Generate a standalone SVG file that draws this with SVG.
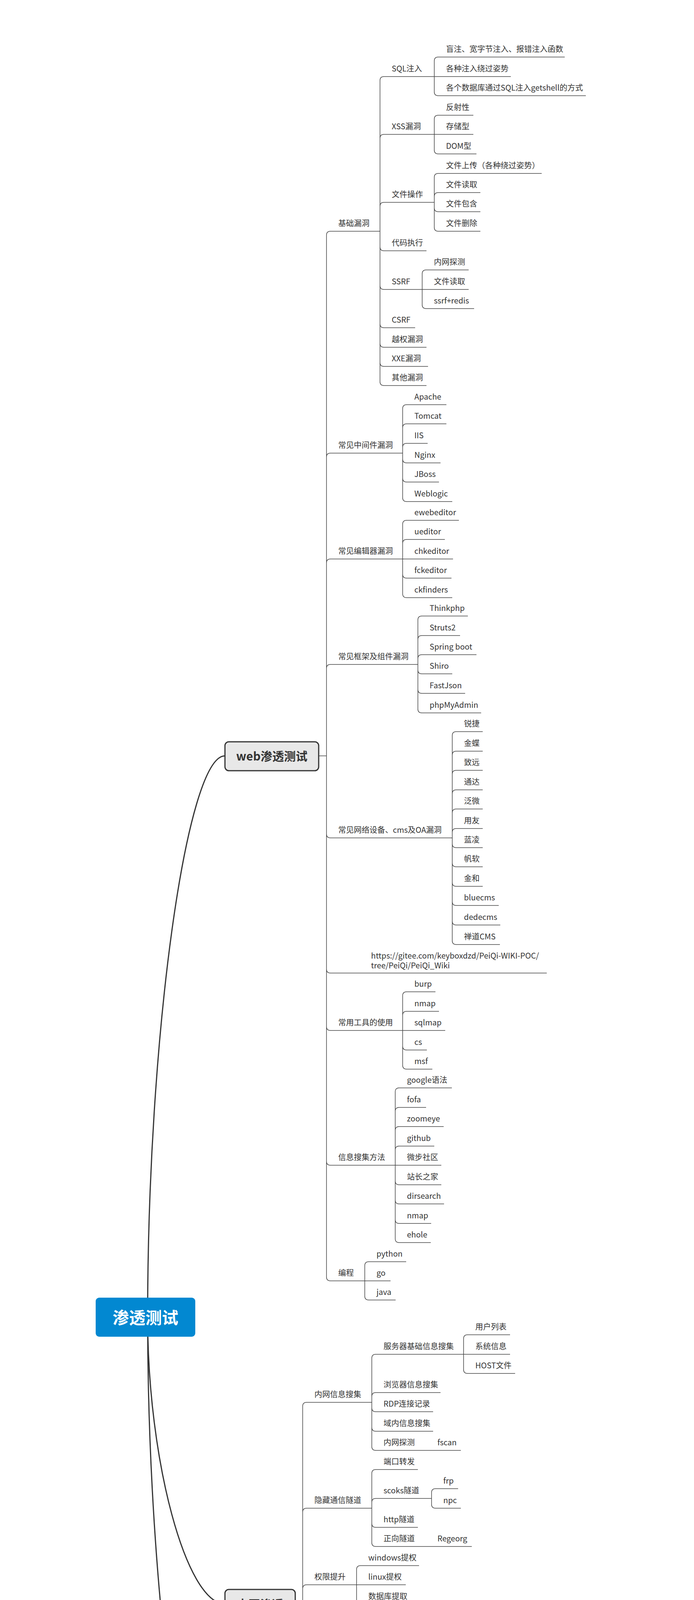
<svg xmlns="http://www.w3.org/2000/svg" width="1777" height="5404" viewBox="0 0 1777 5404">
<style>
.t{font-family:"Noto Sans CJK SC","Noto Sans",sans-serif;font-size:20px;fill:#333}
.u,.c{fill:none;stroke:#444;stroke-width:1.5}
.m{fill:none;stroke:#333;stroke-width:3}
.box{fill:#e8e8e8;stroke:#333;stroke-width:3}
.bt{font-family:"Noto Sans CJK SC","Noto Sans",sans-serif;font-size:30px;font-weight:bold;fill:#333;text-anchor:middle}
.rt{font-family:"Noto Sans CJK SC","Noto Sans",sans-serif;font-size:42px;font-weight:bold;fill:#fff;text-anchor:middle}
</style>
<rect width="1777" height="5404" fill="#fff"/>
<g id="connectors">
<path class="m" d="M378 3372C378 2653.5 477 1935 576 1935"/>
<path class="m" d="M378 3372C378 3739 477 4106 576 4106"/>
<path class="m" d="M378 3372C378 4090.5 477 4809 576 4809"/>
<path class="c" d="M816 1935H836M756 4106H775M756 4809H775"/>
<path class="c" d="M836 1935V602Q836 592 846 592M836 1935V1170Q836 1160 846 1160M836 1935V1441Q836 1431 846 1431M836 1935V1711Q836 1701 846 1701M836 1935V2135Q836 2145 846 2145M836 1935V2481Q836 2491 846 2491M836 1935V2628Q836 2638 846 2638M836 1935V2973Q836 2983 846 2983M836 1935V3269Q836 3279 846 3279"/>
<path class="c" d="M973 592V206Q973 196 983 196M973 592V354Q973 344 983 344M973 592V528Q973 518 983 518M973 592V632Q973 642 983 642M973 592V731Q973 741 983 741M973 592V829Q973 839 983 839M973 592V879Q973 889 983 889M973 592V928Q973 938 983 938M973 592V977Q973 987 983 987"/>
<path class="c" d="M1112 196V156Q1112 146 1122 146M1112 196V235Q1112 245 1122 245M1112 344V305Q1112 295 1122 295M1112 344V384Q1112 394 1122 394M1112 518V454Q1112 444 1122 444M1112 518V503Q1112 493 1122 493M1112 518V532Q1112 542 1122 542M1112 518V582Q1112 592 1122 592M1081 741V701Q1081 691 1091 691M1081 741V780Q1081 790 1091 790"/>
<path class="c" d="M1031 1160V1046Q1031 1036 1041 1036M1031 1160V1095Q1031 1085 1041 1085M1031 1160V1145Q1031 1135 1041 1135M1031 1160V1175Q1031 1185 1041 1185M1031 1160V1224Q1031 1234 1041 1234M1031 1160V1274Q1031 1284 1041 1284"/>
<path class="c" d="M1031 1431V1342Q1031 1332 1041 1332M1031 1431V1391Q1031 1381 1041 1381M1031 1431V1470Q1031 1480 1041 1480M1031 1431V1520Q1031 1530 1041 1530"/>
<path class="c" d="M1070 1701V1587Q1070 1577 1080 1577M1070 1701V1637Q1070 1627 1080 1627M1070 1701V1686Q1070 1676 1080 1676M1070 1701V1715Q1070 1725 1080 1725M1070 1701V1765Q1070 1775 1080 1775M1070 1701V1815Q1070 1825 1080 1825"/>
<path class="c" d="M1158 2145V1883Q1158 1873 1168 1873M1158 2145V1933Q1158 1923 1168 1923M1158 2145V1982Q1158 1972 1168 1972M1158 2145V2032Q1158 2022 1168 2022M1158 2145V2081Q1158 2071 1168 2071M1158 2145V2131Q1158 2121 1168 2121M1158 2145V2160Q1158 2170 1168 2170M1158 2145V2209Q1158 2219 1168 2219M1158 2145V2259Q1158 2269 1168 2269M1158 2145V2308Q1158 2318 1168 2318M1158 2145V2358Q1158 2368 1168 2368M1158 2145V2408Q1158 2418 1168 2418"/>
<path class="c" d="M1031 2638V2549Q1031 2539 1041 2539M1031 2638V2599Q1031 2589 1041 2589M1031 2638V2678Q1031 2688 1041 2688M1031 2638V2727Q1031 2737 1041 2737"/>
<path class="c" d="M1012 2983V2795Q1012 2785 1022 2785M1012 2983V2845Q1012 2835 1022 2835M1012 2983V2894Q1012 2884 1022 2884M1012 2983V2944Q1012 2934 1022 2934M1012 2983V3023Q1012 3033 1022 3033M1012 2983V3072Q1012 3082 1022 3082M1012 2983V3122Q1012 3132 1022 3132M1012 2983V3171Q1012 3181 1022 3181"/>
<path class="c" d="M934 3279V3240Q934 3230 944 3230M934 3279V3318Q934 3328 944 3328"/>
<path class="c" d="M775 4106V3600Q775 3590 785 3590M775 4106V3871Q775 3861 785 3861M775 4106V4067Q775 4057 785 4057M775 4106V4269Q775 4279 785 4279M775 4106V4465Q775 4475 785 4475M775 4106V4612Q775 4622 785 4622"/>
<path class="c" d="M952 3590V3477Q952 3467 962 3467M952 3590V3575Q952 3565 962 3565M952 3590V3604Q952 3614 962 3614M952 3590V3654Q952 3664 962 3664M952 3590V3703Q952 3713 962 3713"/>
<path class="c" d="M1187 3467V3427Q1187 3417 1197 3417M1187 3467V3506Q1187 3516 1197 3516"/>
<path class="c" d="M952 3861V3772Q952 3762 962 3762M952 3861V3846Q952 3836 962 3836M952 3861V3900Q952 3910 962 3910M952 3861V3949Q952 3959 962 3959M1105 3836V3821Q1105 3811 1115 3811M1105 3836V3851Q1105 3861 1115 3861"/>
<path class="c" d="M913 4057V4018Q913 4008 923 4008M913 4057V4097Q913 4107 923 4107"/>
<path class="c" d="M913 4279V4165Q913 4155 923 4155M913 4279V4215Q913 4205 923 4205M913 4279V4264Q913 4254 923 4254M913 4279V4293Q913 4303 923 4303M913 4279V4343Q913 4353 923 4353M913 4279V4392Q913 4402 923 4402"/>
<path class="c" d="M913 4475V4460Q913 4450 923 4450M913 4475V4490Q913 4500 923 4500"/>
<path class="c" d="M894 4622V4558Q894 4548 904 4548M894 4622V4607Q894 4597 904 4597M894 4622V4636Q894 4646 904 4646M894 4622V4686Q894 4696 904 4696"/>
<path class="c" d="M775 4809V4794Q775 4784 785 4784M775 4809V4823Q775 4833 785 4833"/>
</g>

<g id="root"><rect x="245" y="3322" width="255" height="100" rx="9" fill="#0288d1"/><text class="rt" x="372.5" y="3389">渗透测试</text></g>
<g id="web"><rect class="box" x="576" y="1899" width="240" height="74" rx="10"/><text class="bt" x="696" y="1947">web渗透测试</text></g>
<g id="neiwang"><rect class="box" x="576" y="4069" width="180" height="75" rx="10"/><text class="bt" x="666" y="4118">内网渗透</text></g>
<g id="daima"><rect class="box" x="576" y="4772" width="180" height="74" rx="10"/><text class="bt" x="666" y="4820">代码审计</text></g>

<g id="jichu"><text class="t" x="866" y="579">基础漏洞</text><path class="u" d="M846 592H973"/></g>
<g id="zhongjian"><text class="t" x="866" y="1147">常见中间件漏洞</text><path class="u" d="M846 1160H1031"/></g>
<g id="bianji"><text class="t" x="866" y="1418">常见编辑器漏洞</text><path class="u" d="M846 1431H1031"/></g>
<g id="kuangjia"><text class="t" x="866" y="1688">常见框架及组件漏洞</text><path class="u" d="M846 1701H1070"/></g>
<g id="wangluo"><text class="t" x="866" y="2132">常见网络设备、cms及OA漏洞</text><path class="u" d="M846 2145H1158"/></g>
<g id="url"><text class="t" x="950" y="2454">https://gitee.com/keyboxdzd/PeiQi-WIKI-POC/</text><text class="t" x="950" y="2479">tree/PeiQi/PeiQi_Wiki</text><path class="u" d="M846 2491H1400"/></g>
<g id="gongju"><text class="t" x="866" y="2625">常用工具的使用</text><path class="u" d="M846 2638H1031"/></g>
<g id="xinxi"><text class="t" x="866" y="2970">信息搜集方法</text><path class="u" d="M846 2983H1012"/></g>
<g id="biancheng"><text class="t" x="866" y="3266">编程</text><path class="u" d="M846 3279H934"/></g>

<g id="sql"><text class="t" x="1003" y="183">SQL注入</text><path class="u" d="M983 196H1112"/></g>
<g id="xss"><text class="t" x="1003" y="331">XSS漏洞</text><path class="u" d="M983 344H1112"/></g>
<g id="wenjian"><text class="t" x="1003" y="505">文件操作</text><path class="u" d="M983 518H1112"/></g>
<g id="daimazx"><text class="t" x="1003" y="629">代码执行</text><path class="u" d="M983 642H1092"/></g>
<g id="ssrf"><text class="t" x="1003" y="728">SSRF</text><path class="u" d="M983 741H1081"/></g>
<g id="csrf"><text class="t" x="1003" y="826">CSRF</text><path class="u" d="M983 839H1063"/></g>
<g id="yuequan"><text class="t" x="1003" y="876">越权漏洞</text><path class="u" d="M983 889H1092"/></g>
<g id="xxe"><text class="t" x="1003" y="925">XXE漏洞</text><path class="u" d="M983 938H1096"/></g>
<g id="qita"><text class="t" x="1003" y="974">其他漏洞</text><path class="u" d="M983 987H1092"/></g>

<g id="sql1"><text class="t" x="1142" y="133">盲注、宽字节注入、报错注入函数</text><path class="u" d="M1122 146H1446"/></g>
<g id="sql2"><text class="t" x="1142" y="183">各种注入绕过姿势</text><path class="u" d="M1112 196H1308"/></g>
<g id="sql3"><text class="t" x="1142" y="232">各个数据库通过SQL注入getshell的方式</text><path class="u" d="M1122 245H1500"/></g>
<g id="xss1"><text class="t" x="1142" y="282">反射性</text><path class="u" d="M1122 295H1212"/></g>
<g id="xss2"><text class="t" x="1142" y="331">存储型</text><path class="u" d="M1112 344H1212"/></g>
<g id="xss3"><text class="t" x="1142" y="381">DOM型</text><path class="u" d="M1122 394H1220"/></g>
<g id="wj1"><text class="t" x="1142" y="431">文件上传（各种绕过姿势）</text><path class="u" d="M1122 444H1387"/></g>
<g id="wj2"><text class="t" x="1142" y="480">文件读取</text><path class="u" d="M1122 493H1230"/></g>
<g id="wj3"><text class="t" x="1142" y="529">文件包含</text><path class="u" d="M1122 542H1230"/></g>
<g id="wj4"><text class="t" x="1142" y="579">文件删除</text><path class="u" d="M1122 592H1230"/></g>
<g id="ssrf1"><text class="t" x="1111" y="678">内网探测</text><path class="u" d="M1091 691H1200"/></g>
<g id="ssrf2"><text class="t" x="1111" y="728">文件读取</text><path class="u" d="M1081 741H1200"/></g>
<g id="ssrf3"><text class="t" x="1111" y="777">ssrf+redis</text><path class="u" d="M1091 790H1214"/></g>

<g id="mw1"><text class="t" x="1061" y="1023">Apache</text><path class="u" d="M1041 1036H1143"/></g>
<g id="mw2"><text class="t" x="1061" y="1072">Tomcat</text><path class="u" d="M1041 1085H1143"/></g>
<g id="mw3"><text class="t" x="1061" y="1122">IIS</text><path class="u" d="M1041 1135H1095"/></g>
<g id="mw4"><text class="t" x="1061" y="1172">Nginx</text><path class="u" d="M1041 1185H1128"/></g>
<g id="mw5"><text class="t" x="1061" y="1221">JBoss</text><path class="u" d="M1041 1234H1124"/></g>
<g id="mw6"><text class="t" x="1061" y="1271">Weblogic</text><path class="u" d="M1041 1284H1158"/></g>

<g id="ed1"><text class="t" x="1061" y="1319">ewebeditor</text><path class="u" d="M1041 1332H1175"/></g>
<g id="ed2"><text class="t" x="1061" y="1368">ueditor</text><path class="u" d="M1041 1381H1139"/></g>
<g id="ed3"><text class="t" x="1061" y="1418">chkeditor</text><path class="u" d="M1031 1431H1160"/></g>
<g id="ed4"><text class="t" x="1061" y="1467">fckeditor</text><path class="u" d="M1041 1480H1156"/></g>
<g id="ed5"><text class="t" x="1061" y="1517">ckfinders</text><path class="u" d="M1041 1530H1158"/></g>

<g id="fw1"><text class="t" x="1100" y="1564">Thinkphp</text><path class="u" d="M1080 1577H1198"/></g>
<g id="fw2"><text class="t" x="1100" y="1614">Struts2</text><path class="u" d="M1080 1627H1178"/></g>
<g id="fw3"><text class="t" x="1100" y="1663">Spring boot</text><path class="u" d="M1080 1676H1220"/></g>
<g id="fw4"><text class="t" x="1100" y="1712">Shiro</text><path class="u" d="M1080 1725H1158"/></g>
<g id="fw5"><text class="t" x="1100" y="1762">FastJson</text><path class="u" d="M1080 1775H1191"/></g>
<g id="fw6"><text class="t" x="1100" y="1812">phpMyAdmin</text><path class="u" d="M1080 1825H1232"/></g>

<g id="nw1"><text class="t" x="1188" y="1860">锐捷</text><path class="u" d="M1168 1873H1236"/></g>
<g id="nw2"><text class="t" x="1188" y="1910">金蝶</text><path class="u" d="M1168 1923H1236"/></g>
<g id="nw3"><text class="t" x="1188" y="1959">致远</text><path class="u" d="M1168 1972H1236"/></g>
<g id="nw4"><text class="t" x="1188" y="2009">通达</text><path class="u" d="M1168 2022H1236"/></g>
<g id="nw5"><text class="t" x="1188" y="2058">泛微</text><path class="u" d="M1168 2071H1236"/></g>
<g id="nw6"><text class="t" x="1188" y="2108">用友</text><path class="u" d="M1168 2121H1236"/></g>
<g id="nw7"><text class="t" x="1188" y="2157">蓝凌</text><path class="u" d="M1168 2170H1236"/></g>
<g id="nw8"><text class="t" x="1188" y="2206">帆软</text><path class="u" d="M1168 2219H1236"/></g>
<g id="nw9"><text class="t" x="1188" y="2256">金和</text><path class="u" d="M1168 2269H1236"/></g>
<g id="nw10"><text class="t" x="1188" y="2305">bluecms</text><path class="u" d="M1168 2318H1277"/></g>
<g id="nw11"><text class="t" x="1188" y="2355">dedecms</text><path class="u" d="M1168 2368H1281"/></g>
<g id="nw12"><text class="t" x="1188" y="2405">禅道CMS</text><path class="u" d="M1168 2418H1280"/></g>

<g id="tl1"><text class="t" x="1061" y="2526">burp</text><path class="u" d="M1041 2539H1115"/></g>
<g id="tl2"><text class="t" x="1061" y="2576">nmap</text><path class="u" d="M1041 2589H1124"/></g>
<g id="tl3"><text class="t" x="1061" y="2625">sqlmap</text><path class="u" d="M1031 2638H1140"/></g>
<g id="tl4"><text class="t" x="1061" y="2675">cs</text><path class="u" d="M1041 2688H1093"/></g>
<g id="tl5"><text class="t" x="1061" y="2724">msf</text><path class="u" d="M1041 2737H1107"/></g>

<g id="if1"><text class="t" x="1042" y="2772">google语法</text><path class="u" d="M1022 2785H1157"/></g>
<g id="if2"><text class="t" x="1042" y="2822">fofa</text><path class="u" d="M1022 2835H1091"/></g>
<g id="if3"><text class="t" x="1042" y="2871">zoomeye</text><path class="u" d="M1022 2884H1136"/></g>
<g id="if4"><text class="t" x="1042" y="2921">github</text><path class="u" d="M1022 2934H1112"/></g>
<g id="if5"><text class="t" x="1042" y="2970">微步社区</text><path class="u" d="M1012 2983H1130"/></g>
<g id="if6"><text class="t" x="1042" y="3020">站长之家</text><path class="u" d="M1022 3033H1130"/></g>
<g id="if7"><text class="t" x="1042" y="3069">dirsearch</text><path class="u" d="M1022 3082H1137"/></g>
<g id="if8"><text class="t" x="1042" y="3119">nmap</text><path class="u" d="M1022 3132H1104"/></g>
<g id="if9"><text class="t" x="1042" y="3168">ehole</text><path class="u" d="M1022 3181H1103"/></g>

<g id="bc1"><text class="t" x="964" y="3217">python</text><path class="u" d="M944 3230H1040"/></g>
<g id="bc2"><text class="t" x="964" y="3266">go</text><path class="u" d="M934 3279H1000"/></g>
<g id="bc3"><text class="t" x="964" y="3315">java</text><path class="u" d="M944 3328H1013"/></g>

<g id="nwxx"><text class="t" x="805" y="3577">内网信息搜集</text><path class="u" d="M785 3590H952"/></g>
<g id="ycsd"><text class="t" x="805" y="3848">隐藏通信隧道</text><path class="u" d="M785 3861H952"/></g>
<g id="qxts"><text class="t" x="805" y="4044">权限提升</text><path class="u" d="M785 4057H913"/></g>
<g id="qxwc"><text class="t" x="805" y="4266">权限维持</text><path class="u" d="M785 4279H913"/></g>
<g id="hxyd"><text class="t" x="805" y="4462">横向移动</text><path class="u" d="M785 4475H913"/></g>
<g id="yst"><text class="t" x="805" y="4609">域渗透</text><path class="u" d="M785 4622H894"/></g>

<g id="xx1"><text class="t" x="982" y="3454">服务器基础信息搜集</text><path class="u" d="M962 3467H1187"/></g>
<g id="xx1a"><text class="t" x="1217" y="3404">用户列表</text><path class="u" d="M1197 3417H1306"/></g>
<g id="xx1b"><text class="t" x="1217" y="3454">系统信息</text><path class="u" d="M1187 3467H1306"/></g>
<g id="xx1c"><text class="t" x="1217" y="3503">HOST文件</text><path class="u" d="M1197 3516H1319"/></g>
<g id="xx2"><text class="t" x="982" y="3552">浏览器信息搜集</text><path class="u" d="M962 3565H1128"/></g>
<g id="xx3"><text class="t" x="982" y="3601">RDP连接记录</text><path class="u" d="M962 3614H1109"/></g>
<g id="xx4"><text class="t" x="982" y="3651">域内信息搜集</text><path class="u" d="M962 3664H1109"/></g>
<g id="xx5"><text class="t" x="982" y="3700">内网探测</text><path class="u" d="M962 3713H1090"/></g>
<g id="xx5a"><text class="t" x="1120" y="3700">fscan</text><path class="u" d="M1090 3713H1180"/></g>

<g id="sd1"><text class="t" x="982" y="3749">端口转发</text><path class="u" d="M962 3762H1070"/></g>
<g id="sd2"><text class="t" x="982" y="3823">scoks隧道</text><path class="u" d="M962 3836H1105"/></g>
<g id="sd2a"><text class="t" x="1135" y="3798">frp</text><path class="u" d="M1115 3811H1173"/></g>
<g id="sd2b"><text class="t" x="1135" y="3848">npc</text><path class="u" d="M1115 3861H1180"/></g>
<g id="sd3"><text class="t" x="982" y="3897">http隧道</text><path class="u" d="M962 3910H1070"/></g>
<g id="sd4"><text class="t" x="982" y="3946">正向隧道</text><path class="u" d="M962 3959H1090"/></g>
<g id="sd4a"><text class="t" x="1120" y="3946">Regeorg</text><path class="u" d="M1090 3959H1208"/></g>

<g id="ts1"><text class="t" x="943" y="3995">windows提权</text><path class="u" d="M923 4008H1073"/></g>
<g id="ts2"><text class="t" x="943" y="4044">linux提权</text><path class="u" d="M913 4057H1039"/></g>
<g id="ts3"><text class="t" x="943" y="4094">数据库提取</text><path class="u" d="M923 4107H1051"/></g>

<g id="wc1"><text class="t" x="943" y="4142">shift后门</text><path class="u" d="M923 4155H1034"/></g>
<g id="wc2"><text class="t" x="943" y="4192">注册表自启动</text><path class="u" d="M923 4205H1070"/></g>
<g id="wc3"><text class="t" x="943" y="4241">userinit注册表后门</text><path class="u" d="M923 4254H1119"/></g>
<g id="wc4"><text class="t" x="943" y="4290">登录启动项</text><path class="u" d="M923 4303H1051"/></g>
<g id="wc5"><text class="t" x="943" y="4340">计划任务</text><path class="u" d="M923 4353H1031"/></g>
<g id="wc6"><text class="t" x="943" y="4389">隐藏账号</text><path class="u" d="M923 4402H1031"/></g>

<g id="hx1"><text class="t" x="943" y="4437">hash传递</text><path class="u" d="M923 4450H1037"/></g>
<g id="hx2"><text class="t" x="943" y="4487">IPC连接</text><path class="u" d="M923 4500H1023"/></g>

<g id="ys1"><text class="t" x="924" y="4535">ms14-068</text><path class="u" d="M904 4548H1025"/></g>
<g id="ys2"><text class="t" x="924" y="4584">kerberos认证</text><path class="u" d="M904 4597H1054"/></g>
<g id="ys3"><text class="t" x="924" y="4633">黄金白银票据</text><path class="u" d="M904 4646H1051"/></g>
<g id="ys4"><text class="t" x="924" y="4683">委派</text><path class="u" d="M904 4696H972"/></g>

<g id="dm1"><text class="t" x="805" y="4771">JAVA</text><path class="u" d="M785 4784H861"/></g>
<g id="dm2"><text class="t" x="805" y="4820">PHP</text><path class="u" d="M785 4833H854"/></g>
</svg>
